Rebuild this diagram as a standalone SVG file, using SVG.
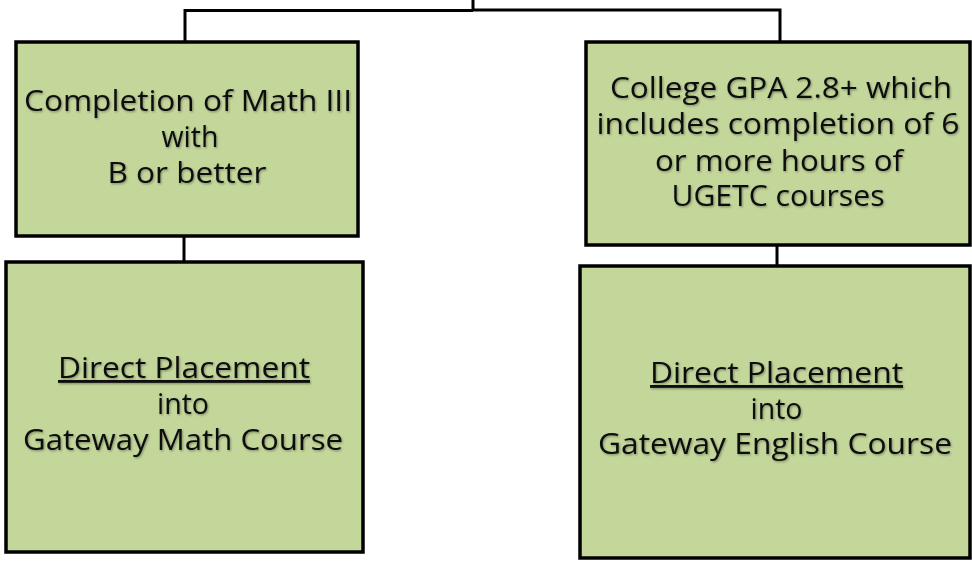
<svg xmlns="http://www.w3.org/2000/svg" width="972" height="561" viewBox="0 0 972 561">
<defs>
<style>
.box{fill:#c4d79b;stroke:#000;stroke-width:3.5}
.conn{fill:none;stroke:#000;stroke-width:3}
.t{font-family:"Open Sans","Noto Sans","Liberation Sans",sans-serif;font-size:28.5px;fill:#111;text-anchor:middle;filter:url(#sh)}
.u{text-decoration:underline}
</style>
<filter id="sh" x="-5%" y="-20%" width="110%" height="140%">
<feDropShadow dx="1" dy="1.2" stdDeviation="0.8" flood-color="#000" flood-opacity="0.35"/>
</filter>
</defs>
<rect width="972" height="561" fill="#fff"/>
<g id="connectors">
<path class="conn" d="M473,0 V10.5 M185,42 V10.5 H473 M780,41 V10 H473"/>
<path class="conn" d="M184,236 V262"/>
<path class="conn" d="M777,245 V266"/>
</g>
<g id="node-math-criteria">
<rect class="box" x="16" y="42" width="342" height="194"/>
<text class="t" x="188" y="111" textLength="328" lengthAdjust="spacingAndGlyphs">Completion of Math III</text>
<text class="t" x="190" y="147">with</text>
<text class="t" x="187" y="183" textLength="159" lengthAdjust="spacingAndGlyphs">B or better</text>
</g>
<g id="node-english-criteria">
<rect class="box" x="586" y="42" width="384" height="203"/>
<text class="t" x="781" y="98" textLength="342" lengthAdjust="spacingAndGlyphs">College GPA 2.8+ which</text>
<text class="t" x="778" y="134" textLength="363" lengthAdjust="spacingAndGlyphs">includes completion of 6</text>
<text class="t" x="779" y="171" textLength="248" lengthAdjust="spacingAndGlyphs">or more hours of</text>
<text class="t" x="778" y="206" textLength="213" lengthAdjust="spacingAndGlyphs">UGETC courses</text>
</g>
<g id="node-math-placement">
<rect class="box" x="6" y="262" width="357" height="290"/>
<text class="t u" x="184" y="378" textLength="252" lengthAdjust="spacingAndGlyphs">Direct Placement</text>
<text class="t" x="183" y="414">into</text>
<text class="t" x="183" y="450" textLength="320" lengthAdjust="spacingAndGlyphs">Gateway Math Course</text>
</g>
<g id="node-english-placement">
<rect class="box" x="580" y="266" width="390" height="292"/>
<text class="t u" x="776.5" y="383" textLength="253" lengthAdjust="spacingAndGlyphs">Direct Placement</text>
<text class="t" x="776.5" y="419">into</text>
<text class="t" x="775" y="454" textLength="354" lengthAdjust="spacingAndGlyphs">Gateway English Course</text>
</g>
</svg>
